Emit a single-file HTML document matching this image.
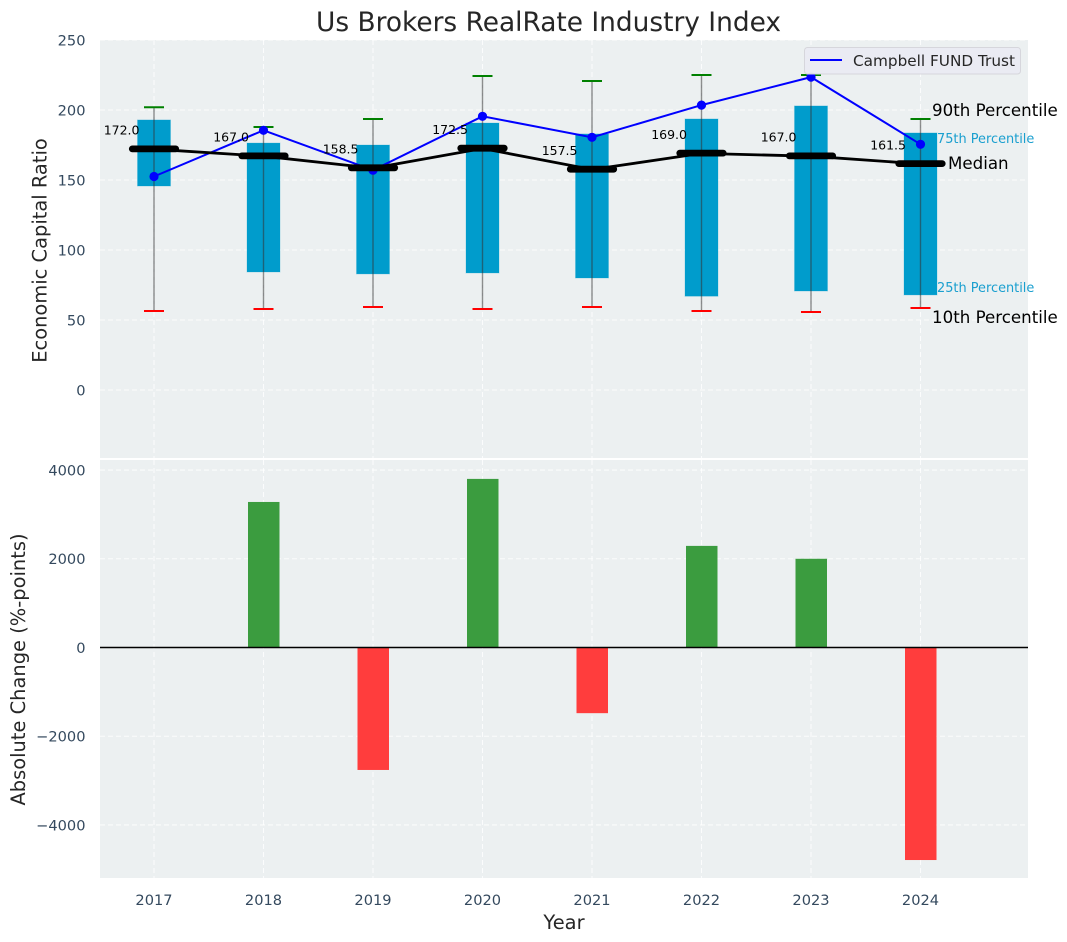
<!DOCTYPE html>
<html lang="en">
<head>
<meta charset="utf-8">
<title>Us Brokers RealRate Industry Index</title>
<style>
html,body{margin:0;padding:0;background:#fff;}
svg{display:block;font-family:"DejaVu Sans","Liberation Sans",sans-serif;}
</style>
</head>
<body>
<svg id="chart" xmlns="http://www.w3.org/2000/svg" width="1067" height="942" viewBox="0 0 1067 942"></svg>
<script>
const years = [2017, 2018, 2019, 2020, 2021, 2022, 2023, 2024];
const p90 = [202, 187.9, 193.6, 224.3, 220.7, 225, 225, 193.6];
const p75 = [192.9, 176.4, 175, 190.7, 182.9, 193.6, 202.9, 183.6];
const medians = [172, 167, 158.5, 172.5, 157.5, 169, 167, 161.5];
const p25 = [145.7, 84.3, 82.9, 83.6, 80, 67, 70.7, 67.9];
const p10 = [56.4, 57.9, 59.3, 57.9, 59.3, 56.4, 55.7, 58.6];
const fundValues = [152.5, 185.5, 157, 195.5, 180.5, 203.5, 223.5, 175.5];
const changes = [0, 3280, -2760, 3800, -1480, 2290, 2000, -4790];
const topTicks = [0, 50, 100, 150, 200, 250];
const bottomTicks = [-4000, -2000, 0, 2000, 4000];

const NS = 'http://www.w3.org/2000/svg';
const svg = document.getElementById('chart');
function make(tag, attrs, text) {
  const el = document.createElementNS(NS, tag);
  for (const k in attrs) el.setAttribute(k, attrs[k]);
  if (text !== undefined) el.textContent = text;
  svg.appendChild(el);
  return el;
}
function x(v) { return 154 + (v - 2017) * 109.5; }
function yTop(v) { return 390 - v * 1.4; }
function yBot(v) { return 647.5 - v * 0.04437; }
const L = 100, R = 1028, T1 = 40, B1 = 458, T2 = 460, B2 = 878;
const TICK = '#34495e';

let el;
el = make('text', {x: 548.5, y: 31, 'text-anchor': 'middle', 'font-size': 26.4, fill: '#262626'}, 'Us Brokers RealRate Industry Index');



el = make('rect', {x: L, y: T1, width: R - L, height: B1 - T1, fill: '#ecf0f1'});


el = make('rect', {x: L, y: T2, width: R - L, height: B2 - T2, fill: '#ecf0f1'});



const gridStyle = {stroke: '#ffffff', 'stroke-width': 1.1, 'stroke-dasharray': '5 3', 'stroke-opacity': 0.8};
topTicks.forEach(function (t) {
  const g = make('line', Object.assign({x1: L, x2: R, y1: yTop(t), y2: yTop(t)}, gridStyle));
  
  
  const l = make('text', {x: 85.5, y: yTop(t) + 5.3, 'text-anchor': 'end', 'font-size': 14.6, fill: TICK}, String(t));
  
  
});
bottomTicks.forEach(function (t) {
  const g = make('line', Object.assign({x1: L, x2: R, y1: yBot(t), y2: yBot(t)}, gridStyle));
  
  
  const l = make('text', {x: 85.5, y: yBot(t) + 5.3, 'text-anchor': 'end', 'font-size': 14.6, fill: TICK}, String(t).replace('-', '\u2212'));
  
  
});
years.forEach(function (yr) {
  const g1 = make('line', Object.assign({x1: x(yr), x2: x(yr), y1: T1, y2: B1}, gridStyle));
  
  
  const g2 = make('line', Object.assign({x1: x(yr), x2: x(yr), y1: T2, y2: B2}, gridStyle));
  
  
  const l = make('text', {x: x(yr), y: 905, 'text-anchor': 'middle', 'font-size': 14.6, fill: TICK}, String(yr));
  
  
});

years.forEach(function (yr, i) {
  const bx = make('rect', {x: x(yr) - 16.5, y: yTop(p75[i]), width: 33, height: yTop(p25[i]) - yTop(p75[i]), fill: '#009ccc', stroke: '#009ccc', 'stroke-opacity': 0.25, 'stroke-width': 1});
  
  
  const w = make('line', {x1: x(yr), x2: x(yr), y1: yTop(p90[i]), y2: yTop(p10[i]), stroke: '#333333', 'stroke-opacity': 0.55, 'stroke-width': 1.4});
  
  
  const c1 = make('line', {x1: x(yr) - 10, x2: x(yr) + 10, y1: yTop(p90[i]), y2: yTop(p90[i]), stroke: '#008000', 'stroke-width': 2});
  
  
  const c2 = make('line', {x1: x(yr) - 10, x2: x(yr) + 10, y1: yTop(p10[i]), y2: yTop(p10[i]), stroke: '#ff0000', 'stroke-width': 2});
  
  
});

el = make('polyline', {points: years.map(function (yr, i) { return x(yr) + ',' + yTop(fundValues[i]); }).join(' '), fill: 'none', stroke: '#0000ff', 'stroke-width': 2});


years.forEach(function (yr, i) {
  const p = make('circle', {cx: x(yr), cy: yTop(fundValues[i]), r: 4.6, fill: '#0000ff'});
  
  
});

el = make('polyline', {points: years.map(function (yr, i) { return x(yr) + ',' + yTop(medians[i]); }).join(' '), fill: 'none', stroke: '#000000', 'stroke-width': 2.8});


years.forEach(function (yr, i) {
  const m = make('line', {x1: x(yr) - 21.7, x2: x(yr) + 21.7, y1: yTop(medians[i]) - 0.3, y2: yTop(medians[i]) - 0.3, stroke: '#000000', 'stroke-width': 6.8, 'stroke-linecap': 'round'});
  
  
  const t = make('text', {x: x(yr) - 14.5, y: yTop(medians[i]) - 14.5, 'text-anchor': 'end', 'font-size': 12.5, fill: '#000000'}, medians[i].toFixed(1));
  
  
});

const lastI = years.length - 1;
const lastX = x(years[lastI]);
el = make('text', {x: lastX + 11.5, y: yTop(p90[lastI]) - 3, 'font-size': 16.67, fill: '#000000'}, '90th Percentile');


el = make('text', {x: lastX + 16.5, y: yTop(p75[lastI]) + 10, 'font-size': 12.9, fill: '#1a9fcf'}, '75th Percentile');


el = make('text', {x: lastX + 27.5, y: yTop(medians[lastI]) + 5, 'font-size': 16.67, fill: '#000000'}, 'Median');


el = make('text', {x: lastX + 16.5, y: yTop(p25[lastI]) - 3, 'font-size': 12.9, fill: '#1a9fcf'}, '25th Percentile');


el = make('text', {x: lastX + 11.5, y: yTop(p10[lastI]) + 15, 'font-size': 16.67, fill: '#000000'}, '10th Percentile');



el = make('rect', {x: 804.5, y: 47.5, width: 216, height: 26.5, rx: 3, fill: '#eaeaf2', 'fill-opacity': 0.95, stroke: '#d6d6dc', 'stroke-width': 1});


el = make('line', {x1: 810, x2: 842, y1: 60, y2: 60, stroke: '#0000ff', 'stroke-width': 2});


el = make('text', {x: 853, y: 66, 'font-size': 15.28, fill: '#262626'}, 'Campbell FUND Trust');



years.forEach(function (yr, i) {
  if (changes[i] === 0) return;
  const y0 = yBot(Math.max(changes[i], 0));
  const y1 = yBot(Math.min(changes[i], 0));
  const b = make('rect', {x: x(yr) - 15.5, y: y0, width: 31.5, height: y1 - y0, fill: changes[i] > 0 ? '#3b9c3f' : '#ff3d3d'});
  
  
});
el = make('line', {x1: L, x2: R, y1: yBot(0), y2: yBot(0), stroke: '#000000', 'stroke-width': 1.4});



el = make('text', {x: 0, y: 0, transform: 'translate(46.5,250.5) rotate(-90)', 'text-anchor': 'middle', 'font-size': 19.44, fill: '#262626'}, 'Economic Capital Ratio');


el = make('text', {x: 0, y: 0, transform: 'translate(25,669.5) rotate(-90)', 'text-anchor': 'middle', 'font-size': 19.44, fill: '#262626'}, 'Absolute Change (%-points)');


el = make('text', {x: 564, y: 929, 'text-anchor': 'middle', 'font-size': 19.44, fill: '#262626'}, 'Year');


</script>
</body>
</html>
